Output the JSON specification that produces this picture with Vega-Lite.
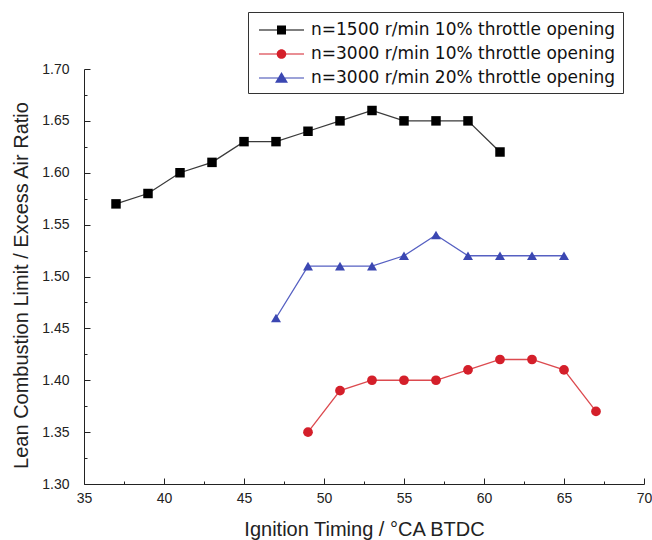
{
  "$schema": "https://vega.github.io/schema/vega-lite/v6.json",
  "width": 560,
  "height": 415,
  "autosize": {"type": "none"},
  "padding": {"left": 84, "top": 69, "right": 8, "bottom": 56},
  "background": "white",
  "config": {
    "view": {"stroke": null},
    "font": "Liberation Sans",
    "axis": {
      "grid": false,
      "domainColor": "#222",
      "tickColor": "#222",
      "domainWidth": 1,
      "tickWidth": 1,
      "labelColor": "#222",
      "titleColor": "#222",
      "labelFont": "Liberation Sans",
      "titleFont": "Liberation Sans",
      "labelFontSize": 14,
      "titleFontSize": 20,
      "titleFontWeight": "normal",
      "labelFlush": false,
      "labelOverlap": false
    }
  },
  "data": {
    "values": [
      {"series": "n=1500 r/min 10% throttle opening", "timing": 37, "ratio": 1.57},
      {"series": "n=1500 r/min 10% throttle opening", "timing": 39, "ratio": 1.58},
      {"series": "n=1500 r/min 10% throttle opening", "timing": 41, "ratio": 1.60},
      {"series": "n=1500 r/min 10% throttle opening", "timing": 43, "ratio": 1.61},
      {"series": "n=1500 r/min 10% throttle opening", "timing": 45, "ratio": 1.63},
      {"series": "n=1500 r/min 10% throttle opening", "timing": 47, "ratio": 1.63},
      {"series": "n=1500 r/min 10% throttle opening", "timing": 49, "ratio": 1.64},
      {"series": "n=1500 r/min 10% throttle opening", "timing": 51, "ratio": 1.65},
      {"series": "n=1500 r/min 10% throttle opening", "timing": 53, "ratio": 1.66},
      {"series": "n=1500 r/min 10% throttle opening", "timing": 55, "ratio": 1.65},
      {"series": "n=1500 r/min 10% throttle opening", "timing": 57, "ratio": 1.65},
      {"series": "n=1500 r/min 10% throttle opening", "timing": 59, "ratio": 1.65},
      {"series": "n=1500 r/min 10% throttle opening", "timing": 61, "ratio": 1.62},
      {"series": "n=3000 r/min 10% throttle opening", "timing": 49, "ratio": 1.35},
      {"series": "n=3000 r/min 10% throttle opening", "timing": 51, "ratio": 1.39},
      {"series": "n=3000 r/min 10% throttle opening", "timing": 53, "ratio": 1.40},
      {"series": "n=3000 r/min 10% throttle opening", "timing": 55, "ratio": 1.40},
      {"series": "n=3000 r/min 10% throttle opening", "timing": 57, "ratio": 1.40},
      {"series": "n=3000 r/min 10% throttle opening", "timing": 59, "ratio": 1.41},
      {"series": "n=3000 r/min 10% throttle opening", "timing": 61, "ratio": 1.42},
      {"series": "n=3000 r/min 10% throttle opening", "timing": 63, "ratio": 1.42},
      {"series": "n=3000 r/min 10% throttle opening", "timing": 65, "ratio": 1.41},
      {"series": "n=3000 r/min 10% throttle opening", "timing": 67, "ratio": 1.37},
      {"series": "n=3000 r/min 20% throttle opening", "timing": 47, "ratio": 1.46},
      {"series": "n=3000 r/min 20% throttle opening", "timing": 49, "ratio": 1.51},
      {"series": "n=3000 r/min 20% throttle opening", "timing": 51, "ratio": 1.51},
      {"series": "n=3000 r/min 20% throttle opening", "timing": 53, "ratio": 1.51},
      {"series": "n=3000 r/min 20% throttle opening", "timing": 55, "ratio": 1.52},
      {"series": "n=3000 r/min 20% throttle opening", "timing": 57, "ratio": 1.54},
      {"series": "n=3000 r/min 20% throttle opening", "timing": 59, "ratio": 1.52},
      {"series": "n=3000 r/min 20% throttle opening", "timing": 61, "ratio": 1.52},
      {"series": "n=3000 r/min 20% throttle opening", "timing": 63, "ratio": 1.52},
      {"series": "n=3000 r/min 20% throttle opening", "timing": 65, "ratio": 1.52}
    ]
  },
  "layer": [
    {
      "mark": {"type": "line", "strokeWidth": 1.3},
      "encoding": {
        "x": {
          "field": "timing", "type": "quantitative",
          "scale": {"domain": [35, 70], "nice": false, "zero": false},
          "axis": {
            "orient": "bottom",
            "values": [35, 40, 45, 50, 55, 60, 65, 70],
            "format": "d",
            "tickSize": -6,
            "labelPadding": 13,
            "titlePadding": 14,
            "title": "Ignition Timing / °CA BTDC"
          }
        },
        "y": {
          "field": "ratio", "type": "quantitative",
          "scale": {"domain": [1.3, 1.7], "nice": false, "zero": false},
          "axis": {
            "orient": "left",
            "values": [1.3, 1.35, 1.4, 1.45, 1.5, 1.55, 1.6, 1.65, 1.7],
            "format": ".2f",
            "tickSize": -6,
            "labelPadding": 21,
            "titlePadding": 10,
            "titleY": 216,
            "title": "Lean Combustion Limit / Excess Air Ratio"
          }
        },
        "color": {
          "field": "series", "type": "nominal",
          "scale": {
            "domain": ["n=1500 r/min 10% throttle opening", "n=3000 r/min 10% throttle opening", "n=3000 r/min 20% throttle opening"],
            "range": ["#3a3a3a", "#dc4a4f", "#5660c2"]
          },
          "legend": null
        },
        "detail": {"field": "series"}
      }
    },
    {
      "mark": {"type": "point", "filled": true, "opacity": 1},
      "encoding": {
        "x": {
          "field": "timing", "type": "quantitative",
          "axis": {
            "orient": "bottom",
            "values": [37.5, 42.5, 47.5, 52.5, 57.5, 62.5, 67.5],
            "labels": false,
            "domain": false,
            "tickSize": -3,
            "title": null
          }
        },
        "y": {
          "field": "ratio", "type": "quantitative",
          "axis": {
            "orient": "left",
            "values": [1.325, 1.375, 1.425, 1.475, 1.525, 1.575, 1.625, 1.675],
            "labels": false,
            "domain": false,
            "tickSize": -3,
            "title": null
          }
        },
        "color": {
          "field": "series", "type": "nominal",
          "scale": {
            "domain": ["n=1500 r/min 10% throttle opening", "n=3000 r/min 10% throttle opening", "n=3000 r/min 20% throttle opening"],
            "range": ["#000000", "#d41f2a", "#3b47b2"]
          },
          "legend": null
        },
        "shape": {
          "field": "series", "type": "nominal",
          "scale": {
            "domain": ["n=1500 r/min 10% throttle opening", "n=3000 r/min 10% throttle opening", "n=3000 r/min 20% throttle opening"],
            "range": ["square", "circle", "triangle-up"]
          },
          "legend": null
        },
        "size": {
          "field": "series", "type": "nominal",
          "scale": {
            "domain": ["n=1500 r/min 10% throttle opening", "n=3000 r/min 10% throttle opening", "n=3000 r/min 20% throttle opening"],
            "range": [90, 100, 190]
          },
          "legend": null
        }
      }
    },
    {
      "transform": [{"filter": "datum.timing > 1000"}],
      "mark": {"type": "point", "filled": true, "opacity": 1},
      "encoding": {
        "color": {
          "field": "series", "type": "nominal",
          "scale": {
            "domain": ["n=1500 r/min 10% throttle opening", "n=3000 r/min 10% throttle opening", "n=3000 r/min 20% throttle opening"],
            "range": ["#000000", "#d41f2a", "#3b47b2"]
          },
          "legend": {
            "title": null,
            "orient": "none",
            "legendX": 164,
            "legendY": -57,
            "padding": 7,
            "strokeColor": "#333333",
            "fillColor": "white",
            "symbolSize": 400,
            "labelFont": "DejaVu Sans",
            "labelFontSize": 17,
            "labelColor": "#111",
            "labelOffset": 34,
            "labelLimit": 400,
            "rowPadding": 5
          }
        },
        "shape": {
          "field": "series", "type": "nominal",
          "scale": {
            "domain": ["n=1500 r/min 10% throttle opening", "n=3000 r/min 10% throttle opening", "n=3000 r/min 20% throttle opening"],
            "range": [
              "M-0.7,-0.06H3.8V0.06H-0.7ZM1.1,-0.45H2.0V0.45H1.1Z",
              "M-0.7,-0.06H3.8V0.06H-0.7ZM1.07,0A0.48,0.48,0,1,1,2.03,0A0.48,0.48,0,1,1,1.07,0Z",
              "M-0.7,-0.06H3.8V0.06H-0.7ZM1.55,-0.6L2.2,0.48H0.9Z"
            ]
          },
          "legend": {
            "title": null,
            "orient": "none",
            "legendX": 164,
            "legendY": -57,
            "padding": 7,
            "strokeColor": "#333333",
            "fillColor": "white",
            "symbolSize": 400,
            "labelFont": "DejaVu Sans",
            "labelFontSize": 17,
            "labelColor": "#111",
            "labelOffset": 34,
            "labelLimit": 400,
            "rowPadding": 5
          }
        }
      }
    }
  ],
  "resolve": {
    "axis": {"x": "independent", "y": "independent"},
    "scale": {"color": "independent", "shape": "independent"},
    "legend": {"color": "independent", "shape": "independent"}
  }
}
